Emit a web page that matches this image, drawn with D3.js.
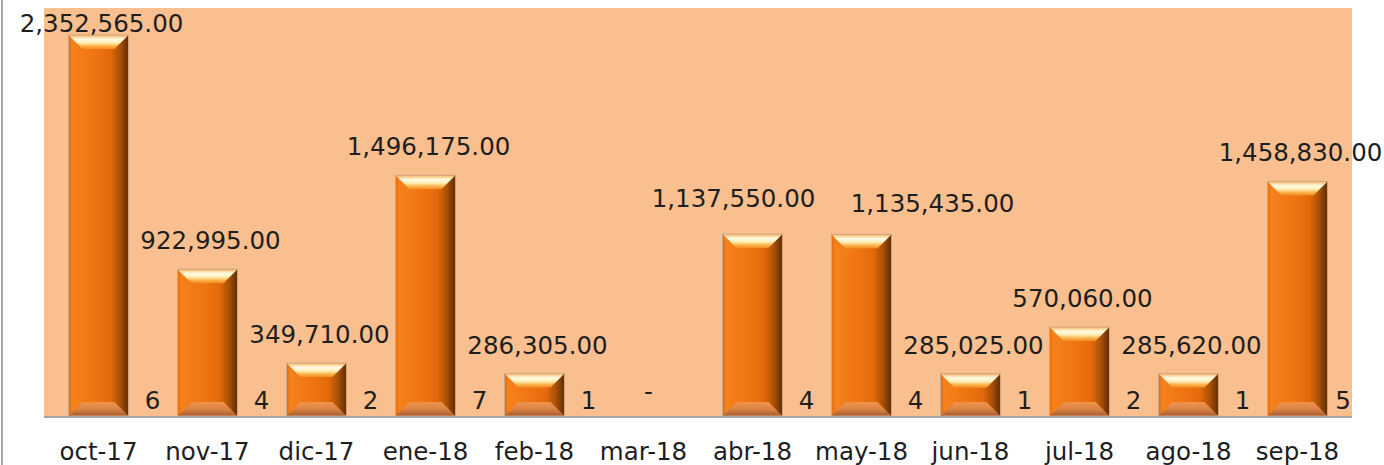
<!DOCTYPE html>
<html>
<head>
<meta charset="utf-8">
<style>
  body { margin: 0; background: #fff; }
  svg { display: block; }
  text { font-family: "DejaVu Sans", sans-serif; fill: #1e1e1e; }
</style>
</head>
<body>
<script src="https://d3js.org/d3.v7.min.js"></script>
<script>
  // data
  const months = ['oct-17', 'nov-17', 'dic-17', 'ene-18', 'feb-18', 'mar-18',
    'abr-18', 'may-18', 'jun-18', 'jul-18', 'ago-18', 'sep-18']
  const amounts = [2352565, 922995, 349710, 1496175, 286305, 0,
    1137550, 1135435, 285025, 570060, 285620, 1458830]
  const counts = [6, 4, 2, 7, 1, null, 4, 4, 1, 2, 1, 5]

  const data = months.map((m, i) => ({ month: m, amount: amounts[i], count: counts[i] }))

  const width = 1384
  const height = 465
  const plot = { left: 44, right: 1352, top: 8, bottom: 416 }

  // labels that were dragged apart in the original
  const nudge = { 'abr-18': [-22, -7], 'may-18': [68, -2] }

  const svg = d3.select('body').append('svg')
    .attr('width', width)
    .attr('height', height)

  const defs = svg.append('defs')

  // bevel gradients
  const bodyGrad = defs.append('linearGradient').attr('id', 'body')
    .attr('x1', 0).attr('x2', 1).attr('y1', 0).attr('y2', 0)
  ;[[0, '#e06c10'], [0.06, '#f5821c'], [0.45, '#f07411'], [0.7, '#e3690c'],
    [0.86, '#a84f07'], [1, '#5e2c04']].forEach(([o, c]) =>
    bodyGrad.append('stop').attr('offset', o).attr('stop-color', c))

  const topGrad = defs.append('linearGradient').attr('id', 'topBevel')
    .attr('x1', 0).attr('x2', 0).attr('y1', 0).attr('y2', 1)
  ;[[0, '#f9b55a'], [0.3, '#fffbe4'], [0.55, '#fff0b8'], [0.8, '#fbb048'], [1, '#f38a22']].forEach(([o, c]) =>
    topGrad.append('stop').attr('offset', o).attr('stop-color', c))

  const botGrad = defs.append('linearGradient').attr('id', 'botBevel')
    .attr('x1', 0).attr('x2', 0).attr('y1', 0).attr('y2', 1)
  ;[[0, '#f0944c'], [0.5, '#dc8446'], [1, '#a85a2a']].forEach(([o, c]) =>
    botGrad.append('stop').attr('offset', o).attr('stop-color', c))

  // scales
  const x = d3.scaleBand()
    .domain(months)
    .range([plot.left, plot.right])
    .paddingInner(0.45)
    .paddingOuter(0.225)

  const y = d3.scaleLinear()
    .domain([0, 2500000])
    .range([420.4, 10.9])

  // plot area
  svg.append('rect')
    .attr('x', plot.left).attr('y', plot.top)
    .attr('width', plot.right - plot.left)
    .attr('height', plot.bottom - plot.top)
    .attr('fill', '#f9bf8f')

  // left border line
  svg.append('line')
    .attr('x1', 2).attr('x2', 2).attr('y1', 0).attr('y2', height)
    .attr('stroke', '#a6a6a6').attr('stroke-width', 2)

  // bars
  const bars = svg.append('g').selectAll('g')
    .data(data.filter(d => d.amount > 0))
    .join('g')

  bars.each(function (d) {
    const g = d3.select(this)
    const bx = x(d.month)
    const bw = x.bandwidth()
    const by = y(d.amount)
    const bh = plot.bottom - by
    const dd = Math.min(14, bh / 3)

    g.append('rect')
      .attr('x', bx).attr('y', by).attr('width', bw).attr('height', bh)
      .attr('fill', 'url(#body)')

    g.append('polygon')
      .attr('points', [[bx, by], [bx + bw, by], [bx + bw - dd, by + dd], [bx + dd, by + dd]].join(' '))
      .attr('fill', 'url(#topBevel)')

    g.append('polygon')
      .attr('points', [[bx, by + bh], [bx + bw, by + bh], [bx + bw - dd, by + bh - dd], [bx + dd, by + bh - dd]].join(' '))
      .attr('fill', 'url(#botBevel)')

    g.append('rect')
      .attr('x', bx).attr('y', by).attr('width', bw).attr('height', bh)
      .attr('fill', 'none').attr('stroke', '#d0a688').attr('stroke-width', 1)
  })

  // baseline
  svg.append('line')
    .attr('x1', plot.left).attr('x2', plot.right)
    .attr('y1', 417).attr('y2', 417)
    .attr('stroke', '#a6a6a6').attr('stroke-width', 2)

  // x axis
  const xAxis = svg.append('g')
    .attr('transform', `translate(0, ${plot.bottom})`)
    .call(d3.axisBottom(x).tickSize(0))
  xAxis.select('.domain').remove()
  xAxis.selectAll('text')
    .attr('y', 44).attr('dy', 0)
    .attr('font-family', '"DejaVu Sans", sans-serif')
    .attr('font-size', '24.5px')
    .attr('fill', '#1e1e1e')

  const fmt = d3.format(',.2f')

  // amount labels
  svg.append('g').selectAll('text')
    .data(data)
    .join('text')
    .attr('x', d => x(d.month) + x.bandwidth() / 2 + 3 + (d.amount === 0 ? 2 : 0) + (nudge[d.month] ? nudge[d.month][0] : 0))
    .attr('y', d => Math.max(32, y(d.amount) - 20) + (nudge[d.month] ? nudge[d.month][1] : 0))
    .attr('text-anchor', 'middle')
    .attr('font-size', '24.5px')
    .text(d => d.amount === 0 ? '-' : fmt(d.amount))

  // count labels
  svg.append('g').selectAll('text')
    .data(data.filter(d => d.count != null))
    .join('text')
    .attr('x', d => Math.min(plot.right - 9, x(d.month) + x.bandwidth() / 2 + 54))
    .attr('y', 409)
    .attr('text-anchor', 'middle')
    .attr('font-size', '24.5px')
    .text(d => d.count)
</script>
</body>
</html>
